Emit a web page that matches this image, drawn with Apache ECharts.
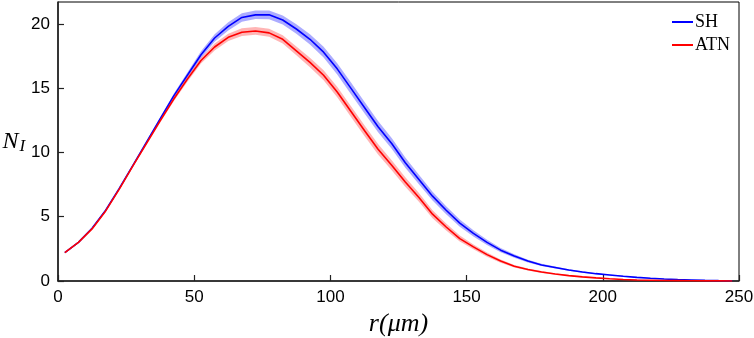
<!DOCTYPE html>
<html>
<head>
<meta charset="utf-8">
<script src="https://cdn.jsdelivr.net/npm/echarts@6/dist/echarts.min.js"></script>
<style>html,body{margin:0;padding:0;background:#fff;}#c{width:754px;height:338px;}</style>
</head>
<body>
<div id="c"></div>
<script>
const rValues = [2.5, 7.5, 12.5, 17.5, 22.5, 27.5, 32.5, 37.5, 42.5, 47.5,
  52.5, 57.5, 62.5, 67.5, 72.5, 77.5, 82.5, 87.5, 92.5, 97.5,
  102.5, 107.5, 112.5, 117.5, 122.5, 127.5, 132.5, 137.5, 142.5, 147.5,
  152.5, 157.5, 162.5, 167.5, 172.5, 177.5, 182.5, 187.5, 192.5, 197.5,
  202.5, 207.5, 212.5, 217.5, 222.5, 227.5, 232.5, 237.5, 242.5, 247.5];
const shValues = [2.2, 3.0, 4.1, 5.5, 7.2, 9.0, 10.8, 12.6, 14.4, 16.0,
  17.6, 18.9, 19.8, 20.5, 20.7, 20.7, 20.3, 19.6, 18.8, 17.8,
  16.5, 15.0, 13.5, 12.0, 10.7, 9.2, 7.9, 6.6, 5.5, 4.5,
  3.7, 3.0, 2.4, 1.95, 1.55, 1.25, 1.05, 0.85, 0.7, 0.57,
  0.47, 0.37, 0.28, 0.21, 0.15, 0.11, 0.08, 0.05, 0.03, 0.02];
const atnValues = [2.2, 3.0, 4.05, 5.45, 7.15, 8.95, 10.7, 12.45, 14.15, 15.7,
  17.15, 18.2, 18.95, 19.35, 19.45, 19.3, 18.8, 17.9, 17.0, 16.0,
  14.7, 13.2, 11.7, 10.25, 9.0, 7.7, 6.5, 5.2, 4.2, 3.3,
  2.65, 2.05, 1.55, 1.15, 0.9, 0.7, 0.55, 0.42, 0.32, 0.24,
  0.17, 0.12, 0.08, 0.06, 0.04, 0.03, 0.02, 0.01, 0.01, 0.0];
const shErr = [0.04, 0.04, 0.05, 0.06, 0.07, 0.08, 0.10, 0.12, 0.17, 0.22,
  0.26, 0.30, 0.32, 0.33, 0.33, 0.34, 0.35, 0.37, 0.40, 0.42,
  0.44, 0.45, 0.45, 0.44, 0.42, 0.40, 0.37, 0.34, 0.31, 0.28,
  0.24, 0.20, 0.17, 0.14, 0.11, 0.09, 0.07, 0.06, 0.05, 0.04,
  0.03, 0.03, 0.02, 0.02, 0.02, 0.01, 0.01, 0.01, 0.01, 0.01];
const atnErr = [0.04, 0.04, 0.05, 0.06, 0.07, 0.08, 0.10, 0.12, 0.16, 0.20,
  0.24, 0.27, 0.29, 0.30, 0.30, 0.31, 0.32, 0.34, 0.37, 0.39,
  0.41, 0.42, 0.42, 0.41, 0.39, 0.37, 0.34, 0.31, 0.27, 0.23,
  0.19, 0.16, 0.13, 0.10, 0.08, 0.07, 0.05, 0.04, 0.04, 0.03,
  0.02, 0.02, 0.02, 0.01, 0.01, 0.01, 0.01, 0.01, 0.01, 0.01];
const xTicks = [0, 50, 100, 150, 200, 250];
const yTicks = [0, 5, 10, 15, 20];
const seriesNames = ['SH', 'ATN'];

const pairs = (ys) => rValues.map((r, i) => [r, ys[i]]);
const bandData = (ys, es) => rValues.map((r, i) => [r, ys[i] - es[i], ys[i] + es[i]]);

function bandSeries(name, ys, es, fill, z) {
  const data = bandData(ys, es);
  return {
    name: name, type: 'custom', silent: true, z: z,
    data: data,
    encode: {x: 0, y: [1, 2]},
    renderItem: function (params, api) {
      if (params.dataIndex !== 0) return null;
      const pts = [];
      for (let i = 0; i < data.length; i++) pts.push(api.coord([data[i][0], data[i][2]]));
      for (let i = data.length - 1; i >= 0; i--) pts.push(api.coord([data[i][0], data[i][1]]));
      return {type: 'polygon', shape: {points: pts}, style: {fill: fill, stroke: null}};
    }
  };
}

const chart = echarts.init(document.getElementById('c'), null, {renderer: 'canvas'});
const labelFont = {fontFamily: 'Liberation Sans, Arial, sans-serif', fontSize: 17, color: '#000'};
const serif = 'Liberation Serif, Times New Roman, serif';
chart.setOption({
  animation: false,
  backgroundColor: '#fff',
  grid: {left: 58, right: 15, top: 2, bottom: 57, containLabel: false, outerBoundsMode: 'none', show: true, borderColor: '#000', borderWidth: 1, backgroundColor: 'transparent'},
  legend: {
    data: seriesNames, orient: 'vertical', left: 667, top: 8, itemGap: 5,
    icon: 'rect', itemWidth: 21, itemHeight: 2,
    textStyle: {fontFamily: serif, fontSize: 18, color: '#000', padding: [0, 0, 0, -3]}
  },
  xAxis: {
    type: 'value', min: xTicks[0], max: xTicks[xTicks.length - 1], interval: 50,
    axisLine: {lineStyle: {color: '#222', width: 1.6}},
    axisTick: {inside: true, length: 6, lineStyle: {color: '#222', width: 1.2}},
    splitLine: {show: false},
    axisLabel: Object.assign({margin: 8}, labelFont),
    name: 'r(μm)', nameLocation: 'middle', nameGap: 30,
    nameTextStyle: {fontFamily: serif, fontStyle: 'italic', fontSize: 26, color: '#000'}
  },
  yAxis: {
    type: 'value', min: yTicks[0], max: 21.7, interval: 5,
    axisLine: {show: true, lineStyle: {color: '#222', width: 1.6}},
    axisTick: {show: true, inside: true, length: 6, lineStyle: {color: '#222', width: 1.2}},
    splitLine: {show: false},
    axisLabel: Object.assign({margin: 8, showMaxLabel: false, formatter: v => (yTicks.indexOf(v) >= 0 ? String(v) : '')}, labelFont),
    name: '{n|N}{s|I}', nameLocation: 'middle', nameRotate: 0, nameGap: 24,
    nameTextStyle: {
      padding: [0, 0, 0, 0],
      rich: {
        n: {fontFamily: serif, fontStyle: 'italic', fontSize: 24, color: '#000'},
        s: {fontFamily: serif, fontStyle: 'italic', fontSize: 17, color: '#000', padding: [10, 0, 0, 1]}
      }
    }
  },
  series: [
    bandSeries('SH-band', shValues, shErr, 'rgba(70,70,255,0.45)', 1),
    {name: 'SH', type: 'line', data: pairs(shValues), symbol: 'none', color: '#0000ff', lineStyle: {color: '#0000ff', width: 1.6}, z: 2},
    bandSeries('ATN-band', atnValues, atnErr, 'rgba(255,70,70,0.4)', 3),
    {name: 'ATN', type: 'line', data: pairs(atnValues), symbol: 'none', color: '#ff0000', lineStyle: {color: '#ff0000', width: 1.6}, z: 4}
  ]
});
</script>
</body>
</html>
